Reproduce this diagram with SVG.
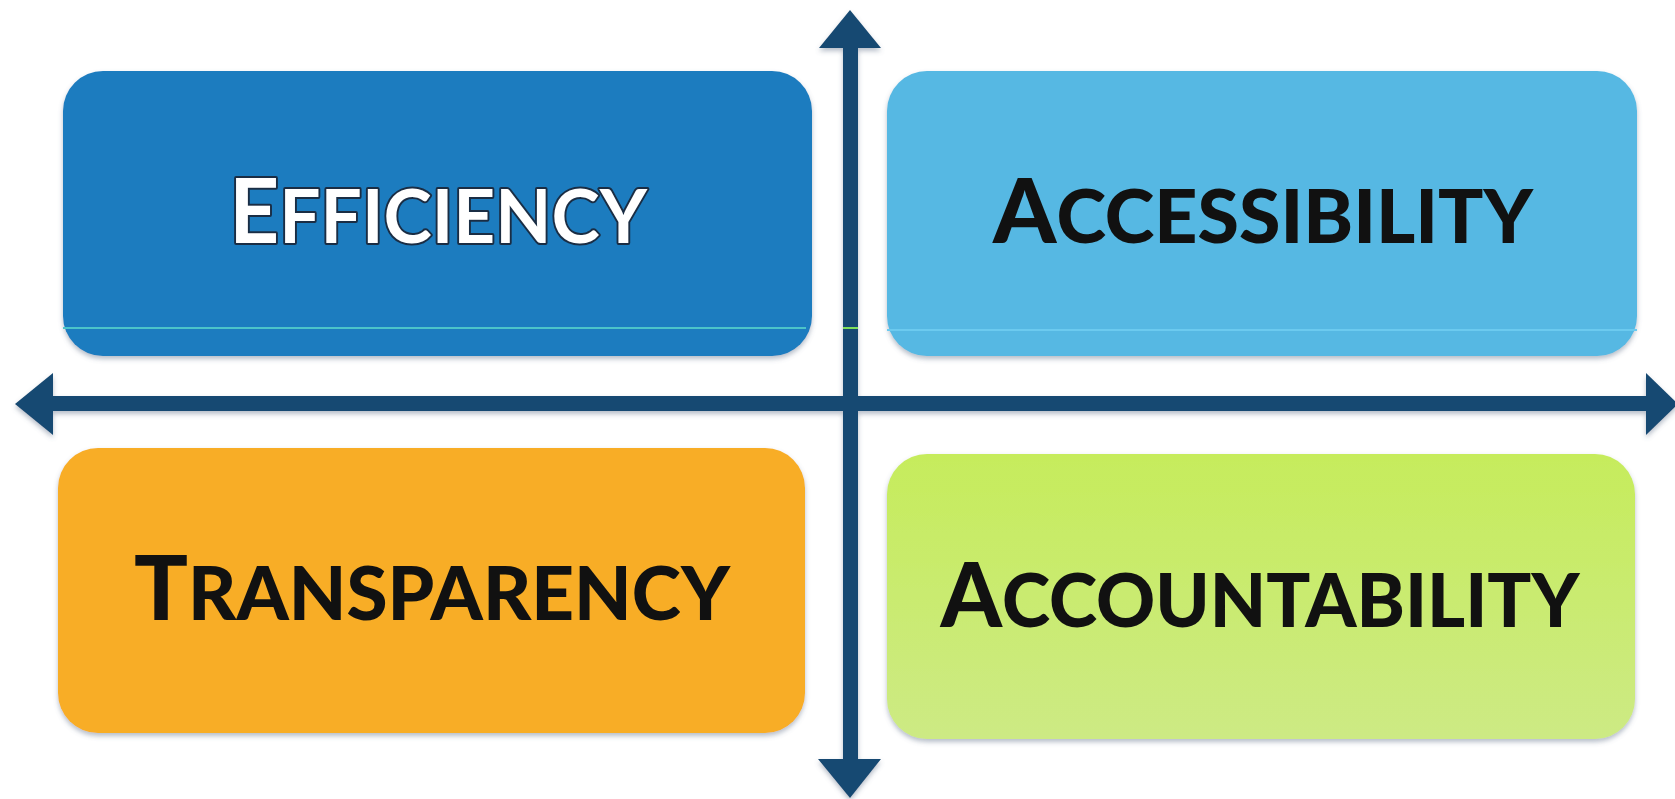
<svg xmlns="http://www.w3.org/2000/svg" width="1675" height="799" viewBox="0 0 1675 799">
  <defs>
    <filter id="shadow" x="-5%" y="-5%" width="110%" height="115%">
      <feDropShadow dx="0" dy="3" stdDeviation="2.5" flood-color="#5d6f86" flood-opacity="0.45"/>
    </filter>
    <linearGradient id="greenGrad" x1="0" y1="0" x2="0" y2="1">
      <stop offset="0" stop-color="#c6ec5c"/>
      <stop offset="1" stop-color="#cdea84"/>
    </linearGradient>
    <style>
      .box { filter: url(#shadow); }
      .lbl { font-family: Lato, "Open Sans", "Liberation Sans", sans-serif; font-weight: 900; text-anchor: middle; fill: #111111; }
      .big { font-size: 90px; }
      .sc { font-size: 75px; }
      .outl { fill: #ffffff; stroke: #1a2d44; stroke-width: 4; paint-order: stroke; stroke-linejoin: round; font-weight: 700; }
      .axis { fill: #174a72; }
    </style>
  </defs>
  <rect width="1675" height="799" fill="#ffffff"/>

  <g id="efficiency">
    <rect class="box" x="63" y="71" width="749" height="285" rx="40" ry="40" fill="#1b7cbf"/>
    <line x1="63" y1="328" x2="806" y2="328" stroke="#4cc4c9" stroke-width="2"/>
    <text class="lbl outl" x="438" y="243" textLength="418" lengthAdjust="spacingAndGlyphs"><tspan class="big">E</tspan><tspan class="sc">FFICIENCY</tspan></text>
  </g>

  <g id="accessibility">
    <rect class="box" x="887" y="71" width="750" height="285" rx="40" ry="40" fill="#56b8e3"/>
    <line x1="887" y1="330" x2="1637" y2="330" stroke="#6ccaef" stroke-width="2"/>
    <text class="lbl" x="1263" y="243" textLength="540" lengthAdjust="spacingAndGlyphs"><tspan class="big">A</tspan><tspan class="sc">CCESSIBILITY</tspan></text>
  </g>

  <g id="transparency">
    <rect class="box" x="58" y="448" width="747" height="285" rx="40" ry="40" fill="#f8ad26"/>
    <text class="lbl" x="432" y="620" textLength="596" lengthAdjust="spacingAndGlyphs"><tspan class="big">T</tspan><tspan class="sc">RANSPARENCY</tspan></text>
  </g>

  <g id="accountability">
    <rect class="box" x="887" y="454" width="748" height="285" rx="40" ry="40" fill="url(#greenGrad)"/>
    <text class="lbl" x="1260" y="627" textLength="639" lengthAdjust="spacingAndGlyphs"><tspan class="big">A</tspan><tspan class="sc">CCOUNTABILITY</tspan></text>
  </g>

  <g id="connectors" class="box">
    <rect class="axis" x="843" y="46" width="15" height="715"/>
    <polygon class="axis" points="850,10 881,48 819,48"/>
    <polygon class="axis" points="850,798 881,759 818,759"/>
    <rect class="axis" x="51" y="396" width="1597" height="15"/>
    <polygon class="axis" points="15,404 53,373 53,435"/>
    <polygon class="axis" points="1678,404 1646,373 1646,435"/>
    <line x1="843" y1="328" x2="858" y2="328" stroke="#7ee05a" stroke-width="2"/>
  </g>
</svg>
